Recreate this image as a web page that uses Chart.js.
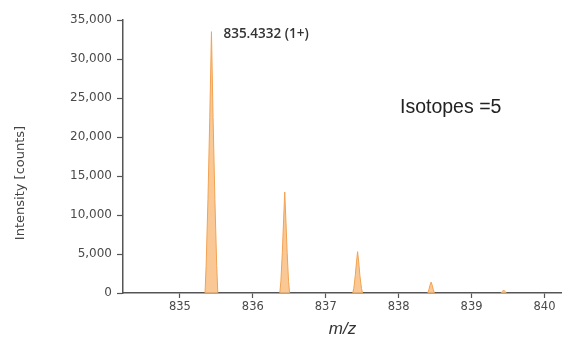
<!DOCTYPE html>
<html>
<head>
<meta charset="utf-8">
<script src="https://cdn.jsdelivr.net/npm/chart.js@4/dist/chart.umd.min.js"></script>
<style>
  html, body { margin: 0; padding: 0; background: #ffffff; }
  #wrap { width: 562px; height: 343px; position: relative; }
</style>
</head>
<body>
<div id="wrap"><canvas id="c" width="562" height="343"></canvas></div>
<script>
// Isotope envelope profile (m/z vs. intensity); null separates the peaks
const profileMz = [
  835.345, 835.36, 835.385, 835.41, 835.433, 835.455, 835.48, 835.505, 835.52,
  835.9,
  836.37, 836.385, 836.405, 836.423, 836.438, 836.453, 836.471, 836.49, 836.505,
  836.9,
  837.37, 837.385, 837.405, 837.422, 837.437, 837.452, 837.469, 837.49, 837.505,
  837.9,
  838.40, 838.415, 838.43, 838.445, 838.46, 838.475, 838.49,
  838.9,
  839.40, 839.425, 839.44, 839.455, 839.48
];
const profileIntensity = [
  0, 3500, 12000, 22500, 33500, 22500, 12000, 3500, 0,
  null,
  0, 1500, 5200, 9500, 12950, 9500, 5200, 1500, 0,
  null,
  0, 600, 2200, 4000, 5300, 4000, 2200, 600, 0,
  null,
  0, 450, 1000, 1400, 1000, 450, 0,
  null,
  0, 220, 380, 220, 0
];

// Monoisotopic peak annotation
const monoMz = 835.433;
const monoIntensity = 33500;
const monoLabel = '835.4332 (1+)';
const isotopeLabel = 'Isotopes =5';

// Axis ticks and titles
const xTicks = [835, 836, 837, 838, 839, 840];
const yTicks = [0, 5000, 10000, 15000, 20000, 25000, 30000, 35000];
const xTitle = 'm/z';
const yTitle = 'Intensity [counts]';

const points = profileMz.map((x, i) => ({ x: x, y: profileIntensity[i] }));

const textPlugin = {
  id: 'texts',
  afterDraw(chart) {
    const ctx = chart.ctx;
    const xs = chart.scales.x, ys = chart.scales.y;
    ctx.save();
    // monoisotopic label next to the apex
    const px = xs.getPixelForValue(monoMz);
    const py = ys.getPixelForValue(monoIntensity);
    ctx.font = '600 13.5px "Open Sans", "DejaVu Sans", sans-serif';
    ctx.fillStyle = '#333333';
    ctx.textAlign = 'left';
    ctx.textBaseline = 'middle';
    ctx.fillText(monoLabel, px + 12, py + 2);
    // isotope count
    ctx.font = '19.5px "Liberation Sans", Arial, sans-serif';
    ctx.fillStyle = '#222222';
    ctx.fillText(isotopeLabel, 400, 108);
    // y axis title
    ctx.translate(21, 183);
    ctx.rotate(-Math.PI / 2);
    ctx.textAlign = 'center';
    ctx.font = '13px "DejaVu Sans", Verdana, sans-serif';
    ctx.fillStyle = '#444444';
    ctx.fillText(yTitle, 0, 0);
    ctx.restore();
  }
};

new Chart(document.getElementById('c'), {
  type: 'line',
  data: {
    datasets: [{
      data: points,
      borderColor: '#f2a252',
      backgroundColor: 'rgba(248, 190, 130, 0.85)',
      borderWidth: 1,
      pointRadius: 0,
      tension: 0,
      fill: 'origin',
      spanGaps: false
    }]
  },
  options: {
    responsive: false,
    animation: false,
    layout: { padding: { left: 0, right: 0, top: 20, bottom: 0 } },
    plugins: { legend: { display: false }, tooltip: { enabled: false } },
    scales: {
      x: {
        type: 'linear',
        min: 834.22,
        max: 840.24,
        afterBuildTicks(axis) { axis.ticks = xTicks.map(v => ({ value: v })); },
        afterFit(axis) { axis.height = 50; },
        grid: { display: true, drawOnChartArea: false, drawTicks: true, tickLength: 5, tickColor: '#555555', tickWidth: 1.2 },
        border: { display: true, color: '#555555', width: 1.5 },
        ticks: {
          color: '#4a4a4a',
          padding: 2,
          maxRotation: 0,
          font: { family: '"DejaVu Sans", Verdana, sans-serif', size: 11.5 },
          callback: v => String(v)
        },
        title: {
          display: true,
          text: xTitle,
          color: '#333333',
          padding: { top: 2, bottom: 4 },
          font: { family: '"Liberation Sans", Arial, sans-serif', size: 17, style: 'italic' }
        }
      },
      y: {
        min: 0,
        max: 35000,
        afterBuildTicks(axis) { axis.ticks = yTicks.map(v => ({ value: v })); },
        afterFit(axis) { axis.width = 123; },
        grid: { display: true, drawOnChartArea: false, drawTicks: true, tickLength: 6, tickColor: '#555555', tickWidth: 1.2 },
        border: { display: true, color: '#555555', width: 1.5 },
        ticks: {
          color: '#4a4a4a',
          padding: 5,
          font: { family: '"DejaVu Sans", Verdana, sans-serif', size: 12 },
          callback: v => v.toLocaleString('en-US')
        }
      }
    }
  },
  plugins: [textPlugin]
});
</script>
</body>
</html>
